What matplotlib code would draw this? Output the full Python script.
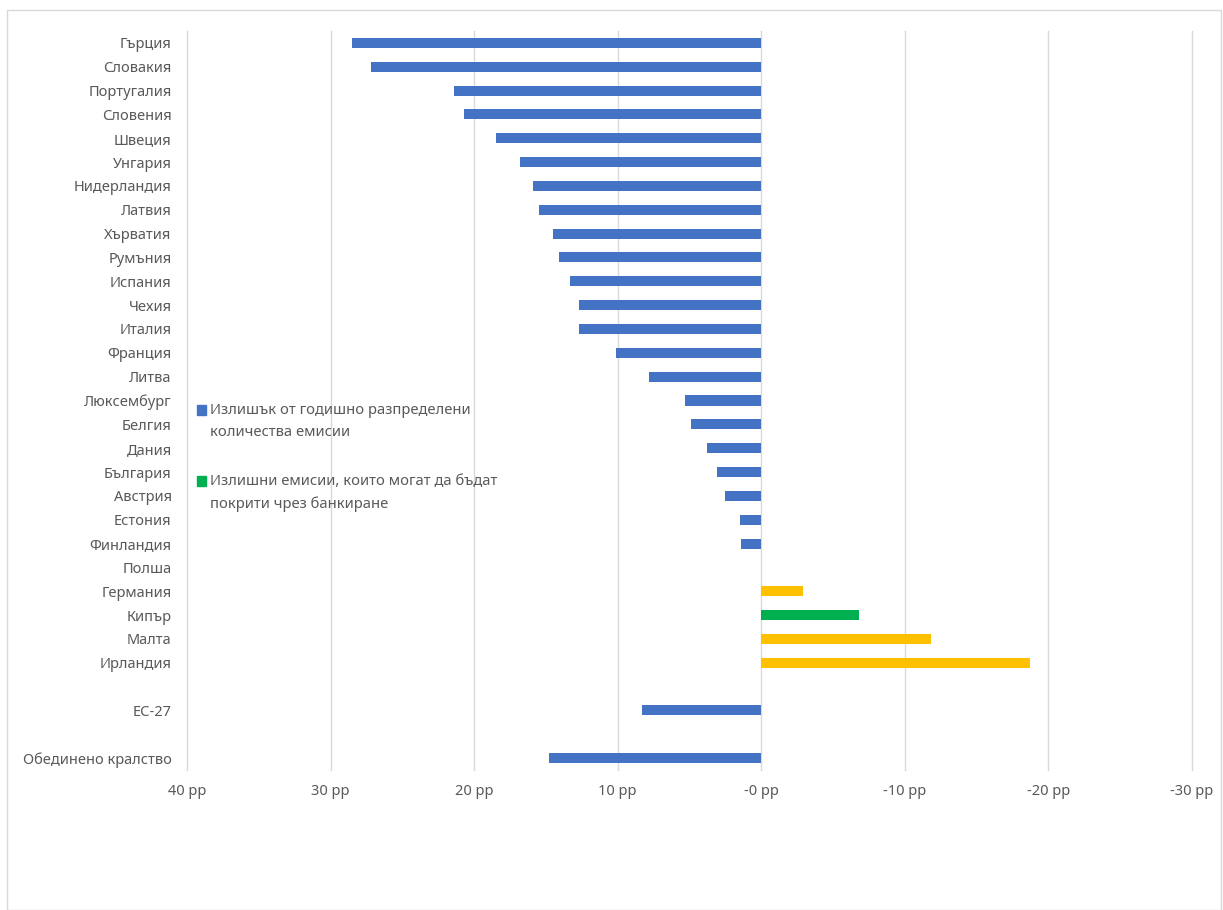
import matplotlib
matplotlib.use("Agg")
import matplotlib.pyplot as plt
from matplotlib.patches import Rectangle

plt.rcParams['font.family'] = ['Noto Sans', 'DejaVu Sans']

categories = [
    "Гърция", "Словакия", "Португалия", "Словения", "Швеция", "Унгария",
    "Нидерландия", "Латвия", "Хърватия", "Румъния", "Испания", "Чехия",
    "Италия", "Франция", "Литва", "Люксембург", "Белгия", "Дания",
    "България", "Австрия", "Естония", "Финландия", "Полша", "Германия",
    "Кипър", "Малта", "Ирландия", "", "ЕС-27", "", "Обединено кралство",
]
# percentage points; positive = surplus, negative = excess emissions
values = [
    28.5, 27.2, 21.4, 20.7, 18.5, 16.8,
    15.9, 15.5, 14.5, 14.1, 13.3, 12.7,
    12.7, 10.1, 7.8, 5.3, 4.9, 3.8,
    3.1, 2.5, 1.5, 1.4, 0.0, -2.9,
    -6.8, -11.8, -18.7, None, 8.3, None, 14.8,
]
groups = [
    "surplus", "surplus", "surplus", "surplus", "surplus", "surplus",
    "surplus", "surplus", "surplus", "surplus", "surplus", "surplus",
    "surplus", "surplus", "surplus", "surplus", "surplus", "surplus",
    "surplus", "surplus", "surplus", "surplus", "surplus", "excess",
    "banking", "excess", "excess", None, "surplus", None, "surplus",
]
tick_values = [40, 30, 20, 10, 0, -10, -20, -30]
tick_labels = ["40 pp", "30 pp", "20 pp", "10 pp", "-0 pp", "-10 pp", "-20 pp", "-30 pp"]
legend_labels = [
    "Излишък от годишно разпределени\nколичества емисии",
    "Излишни емисии, които могат да бъдат\nпокрити чрез банкиране",
]

colors = {"surplus": "#4472C4", "banking": "#00B050", "excess": "#FFC000"}
text_color = "#595959"

W, H = 1223, 910
fig = plt.figure(figsize=(W / 100, H / 100), dpi=100)
ax = fig.add_axes([187 / W, 1 - 770 / H, (1192 - 187) / W, (770 - 31) / H])

ypos = list(range(len(categories)))
for y, v, g in zip(ypos, values, groups):
    if v is None:
        continue
    ax.barh(y, v, height=0.42, color=colors[g], zorder=3)

ax.set_xlim(40, -30)
ax.set_ylim(len(categories) - 0.5, -0.5)
ax.set_xticks(tick_values)
ax.set_xticklabels(tick_labels)
ax.set_yticks(ypos)
ax.set_yticklabels(categories)
ax.tick_params(axis='both', length=0, colors=text_color, labelsize=10.5)
ax.tick_params(axis='x', pad=10)
ax.tick_params(axis='y', pad=11)
ax.grid(axis='x', color="#D9D9D9", linewidth=1, zorder=0)
for gl in ax.get_xgridlines():
    gl.set_clip_on(False)
for s in ax.spines.values():
    s.set_visible(False)

# legend drawn at fixed figure position
leg_items = [(legend_labels[0], colors["surplus"], 410), (legend_labels[1], colors["banking"], 481)]
for label, col, yc in leg_items:
    fig.patches.append(Rectangle((197 / W, 1 - (yc + 5) / H), 9 / W, 10 / H,
                                 transform=fig.transFigure, color=col))
    fig.text(210 / W, 1 - (yc - 7) / H, label, color=text_color, fontsize=10.6,
             va='top', ha='left', linespacing=1.6)

# chart area border
fig.patches.append(Rectangle((7 / W, 0), (1221 - 7) / W, 1 - 10 / H,
                             transform=fig.transFigure, fill=False,
                             edgecolor="#D9D9D9", linewidth=1))

fig.savefig("out.png", dpi=100)
